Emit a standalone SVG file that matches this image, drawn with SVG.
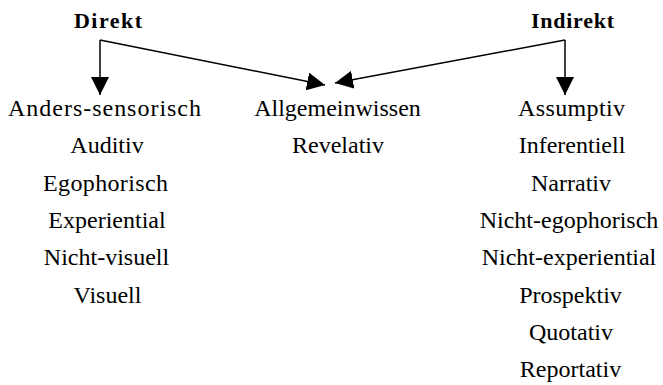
<svg xmlns="http://www.w3.org/2000/svg" width="663" height="385" viewBox="0 0 663 385">
<style>
.c{stroke:#000;stroke-width:1.5;fill:none;marker-end:url(#ah)}
</style>
<defs>
<marker id="ah" markerUnits="userSpaceOnUse" markerWidth="18" markerHeight="18" refX="18" refY="9" orient="auto" viewBox="0 0 18 18">
<path d="M0,0 L18,9 L0,18 z" fill="#000"/>
</marker>
</defs>
<rect width="663" height="385" fill="#fff"/>
<g id="connectors">
<polyline class="c" points="100,40 100,95"/>
<line class="c" x1="100" y1="40" x2="325" y2="85"/>
<polyline class="c" points="565,40 565,95"/>
<line class="c" x1="565" y1="40" x2="335" y2="83"/>
</g>
<g font-family="Liberation Serif" font-weight="bold" font-size="22" text-anchor="middle" fill="#000">
<g id="direkt"><text x="108" y="28" textLength="68" lengthAdjust="spacing">Direkt</text></g>
<g id="indirekt"><text x="572.5" y="28" textLength="83" lengthAdjust="spacing">Indirekt</text></g>
</g>
<g font-family="Liberation Serif" font-size="24" text-anchor="middle" fill="#000">
<g id="direkt-list">
<text x="104.5" y="116" textLength="193" lengthAdjust="spacing">Anders-sensorisch</text>
<text x="107" y="153.3">Auditiv</text>
<text x="105.5" y="190.6" textLength="125" lengthAdjust="spacing">Egophorisch</text>
<text x="107" y="228">Experiential</text>
<text x="106.5" y="265.2">Nicht-visuell</text>
<text x="107.5" y="302.5">Visuell</text>
</g>
<g id="shared-list">
<text x="337.5" y="116">Allgemeinwissen</text>
<text x="338" y="153.3">Revelativ</text>
</g>
<g id="indirekt-list">
<text x="571.5" y="116" textLength="107" lengthAdjust="spacing">Assumptiv</text>
<text x="572" y="153.3">Inferentiell</text>
<text x="571" y="190.6">Narrativ</text>
<text x="569" y="228">Nicht-egophorisch</text>
<text x="569" y="265.2">Nicht-experiential</text>
<text x="570.5" y="302.5">Prospektiv</text>
<text x="571" y="340">Quotativ</text>
<text x="570.5" y="377">Reportativ</text>
</g>
</g>
</svg>
